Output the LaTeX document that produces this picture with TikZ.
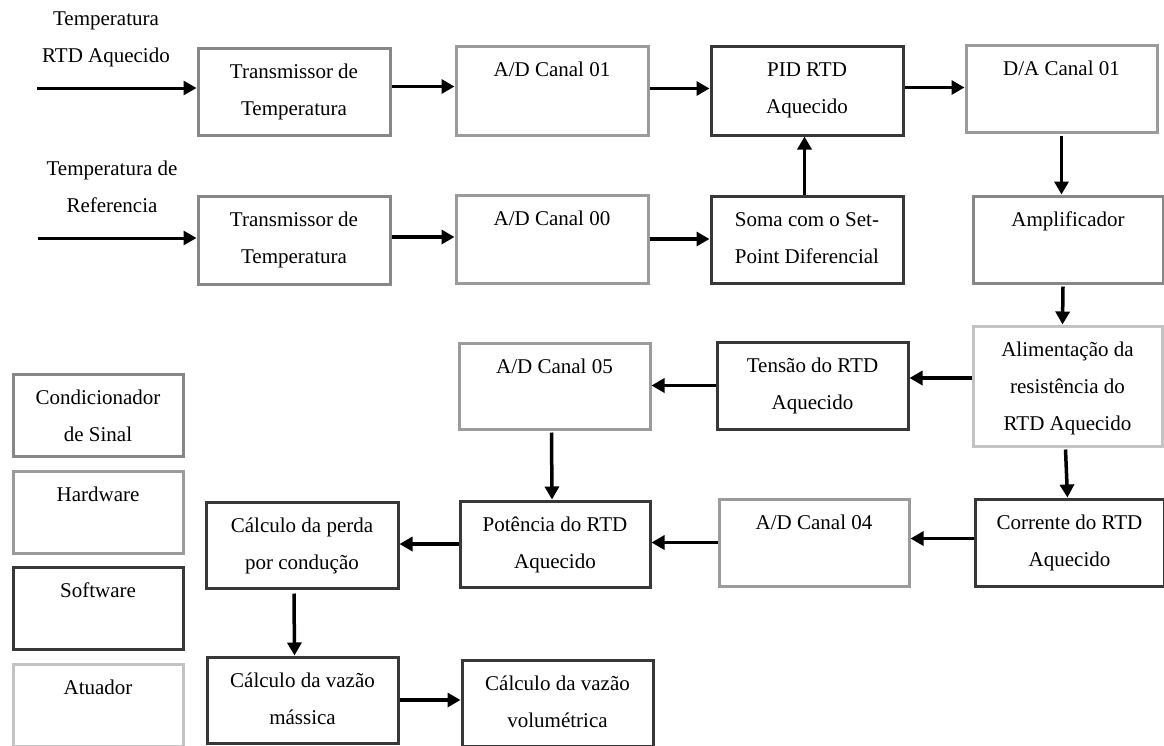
\documentclass[tikz,border=0pt]{standalone}
\usepackage{fontspec}
\setmainfont{Liberation Serif}
\usetikzlibrary{arrows.meta}

\definecolor{condcol}{HTML}{878787}
\definecolor{hwcol}{HTML}{9B9B9B}
\definecolor{swcol}{HTML}{383838}
\definecolor{actcol}{HTML}{C3C3C3}

\tikzset{
  txt/.style={font=\fontsize{21}{37}\selectfont, align=center, inner sep=0pt},
  blk/.style={rectangle, line width=3pt, fill=white, anchor=north west, inner sep=0pt},
  condbox/.style={blk, draw=condcol},
  hwbox/.style={blk, draw=hwcol},
  swbox/.style={blk, draw=swcol},
  actbox/.style={blk, draw=actcol},
  sz/.style 2 args={minimum width=#1pt, minimum height=#2pt},
  caption/.style={label={[txt, anchor=north, yshift=-5.6pt]north:{\strut #1}}},
  arr/.style={line width=3.5pt, -{Triangle[length=13pt,width=14pt]}},
}

\begin{document}
\begin{tikzpicture}[x=1pt, y=-1pt]
\useasboundingbox (0,0) rectangle (1164,745);

% inputs
\node[txt, anchor=north] (lblA) at (106,-0.9) {\strut Temperatura\\RTD Aquecido};
\node[txt, anchor=north] (lblB) at (112,149.1) {\strut Temperatura de\\Referencia};
\coordinate (inA) at (37,88);
\coordinate (inB) at (38,238);

% row 1
\node[condbox, sz={192}{87}, caption={Transmissor de\\Temperatura}] (tr1) at (196.5,46.5) {};
\node[hwbox, sz={192}{89}, caption={A/D Canal 01}] (ad01) at (454.5,44.5) {};
\node[swbox, sz={192}{89}, caption={PID RTD\\Aquecido}] (pid) at (709.5,44.5) {};
\node[hwbox, sz={191}{87}, caption={D/A Canal 01}] (da01) at (964.5,43.5) {};

% row 2
\node[condbox, sz={192}{88}, caption={Transmissor de\\Temperatura}] (tr2) at (196.5,194.5) {};
\node[hwbox, sz={192}{88}, caption={A/D Canal 00}] (ad00) at (454.5,193.5) {};
\node[swbox, sz={192}{87}, caption={Soma com o Set-\\Point Diferencial}] (soma) at (709.5,194.5) {};
\node[condbox, sz={190}{87}, caption={Amplificador}] (amp) at (971.5,194.5) {};

% row 3
\node[actbox, sz={189}{120}, caption={Alimentação da\\resistência do\\RTD Aquecido}] (alim) at (971.5,324.5) {};
\node[swbox, sz={191}{87}, caption={Tensão do RTD\\Aquecido}] (tens) at (715.5,340.5) {};
\node[hwbox, sz={191}{86}, caption={A/D Canal 05}] (ad05) at (457.5,341.5) {};

% row 4
\node[swbox, sz={189}{87}, caption={Corrente do RTD\\Aquecido}] (corr) at (973.5,497.5) {};
\node[hwbox, sz={190}{87}, caption={A/D Canal 04}] (ad04) at (717.5,497.5) {};
\node[swbox, sz={190}{86}, caption={Potência do RTD\\Aquecido}] (pot) at (458.5,499.5) {};
\node[swbox, sz={192}{86}, caption={Cálculo da perda\\por condução}] (perda) at (204.5,500.5) {};

% row 5
\node[swbox, sz={191}{86}, caption={Cálculo da vazão\\mássica}] (mass) at (205.5,655.5) {};
\node[swbox, sz={191}{86}, caption={Cálculo da vazão\\volumétrica}] (vol) at (460.5,658.5) {};

% legend
\node[condbox, sz={170}{82}, caption={Condicionador\\de Sinal}] (legC) at (11.5,372.5) {};
\node[hwbox, sz={170}{82}, caption={Hardware}] (legH) at (11.5,469.5) {};
\node[swbox, sz={170}{82}, caption={Software}] (legS) at (11.5,565.5) {};
\node[actbox, sz={170}{82}, caption={Atuador}] (legA) at (11.5,662.5) {};

% connectors
\draw[arr, line width=3pt] (inA) -- (inA -| tr1.west);
\draw[arr, line width=3pt] (inB) -- (inB -| tr2.west);
\draw[arr] ([yshift=5pt]tr1.east) -- ([yshift=5pt]tr1.east -| ad01.west);
\draw[arr] ([yshift=2pt]ad01.east) -- ([yshift=2pt]ad01.east -| pid.west);
\draw[arr] ([yshift=3pt]pid.east) -- ([yshift=3pt]pid.east -| da01.west);
\draw[arr] ([yshift=-2pt]da01.south) -- (da01.south |- amp.north);
\draw[arr] ([xshift=-2.5pt]soma.north) -- ([xshift=-2.5pt]pid.south);
\draw[arr] ([yshift=3pt]tr2.east) -- ([yshift=3pt]tr2.east -| ad00.west);
\draw[arr] (ad00.east) -- (ad00.east -| soma.west);
\draw[arr] ([xshift=-5pt,yshift=-2pt]amp.south) -- ([xshift=-5pt]alim.north);
\draw[arr] ([yshift=8pt]alim.west) -- ([yshift=8pt]alim.west -| tens.east);
\draw[arr] (tens.west) -- (tens.west -| ad05.east);
\draw[arr] ([xshift=-3pt,yshift=-2pt]ad05.south) -- ([xshift=-3pt]pot.north);
\draw[arr] ([xshift=-2pt,yshift=-2pt]alim.south) -- ([xshift=-2pt]corr.north);
\draw[arr] ([yshift=4pt]corr.west) -- ([yshift=4pt]corr.west -| ad04.east);
\draw[arr] (ad04.west) -- (ad04.west -| pot.east);
\draw[arr] (pot.west) -- (pot.west -| perda.east);
\draw[arr] ([xshift=-8pt,yshift=-4pt]perda.south) -- ([xshift=-8pt]mass.north);
\draw[arr] (mass.east) -- (mass.east -| vol.west);
\end{tikzpicture}
\end{document}
